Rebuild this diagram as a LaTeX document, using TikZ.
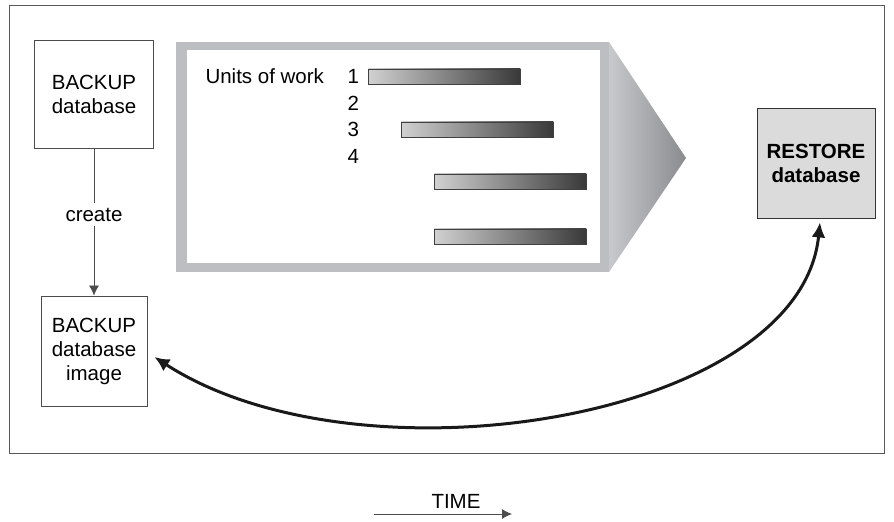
\documentclass[tikz,border=0pt]{standalone}
\usepackage{fontspec}
\setmainfont{Liberation Sans}
\usetikzlibrary{arrows.meta}

\definecolor{framegray}{RGB}{189,190,194}
\definecolor{tipleft}{RGB}{200,201,204}
\definecolor{tipright}{RGB}{138,139,143}
\newcommand{\diafont}{\fontsize{20.5bp}{24bp}\selectfont}

\begin{document}
\begin{tikzpicture}[x=1bp, y=-1bp,
  every node/.style={font=\diafont},
  box/.style={rectangle, draw=black!70, line width=0.8bp, align=center, inner sep=0pt},
  bar/.style={rectangle, draw=black!75, line width=0.8bp, left color=black!18, right color=black!78,
              minimum width=152bp, minimum height=15bp, inner sep=0pt, anchor=west},
  arr/.style={-{Latex[length=10bp,width=10bp]}, draw=black!70, line width=0.8bp},
  curv/.style={{Latex[length=15bp,width=14bp]}-{Latex[length=15bp,width=14bp]}, line width=3bp, black!90}]

\useasboundingbox (0,0) rectangle (894,522);
\draw[black!65, line width=1bp] (9,6) rectangle (884,453);

% units of work panel
\fill[framegray] (176,42) rectangle (609,272);
\fill[white] (187,50) rectangle (600,263);
\shade[left color=tipleft, right color=tipright] (609,42) -- (686,158) -- (609,272) -- cycle;

\node[anchor=base west] (units) at (202,84) {Units of work};
\foreach \n/\y in {1/84,2/111,3/137,4/164}
  \node[anchor=base west] (n\n) at (344,\y) {\n};

\node[bar] (b1) at (368,76.5) {};
\node[bar] (b2) at (401,129.5) {};
\node[bar] (b3) at (434,181.5) {};
\node[bar] (b4) at (434,236.5) {};

% boxes
\node[box, minimum width=119bp, minimum height=108bp] (bkdb) at (94,94) {BACKUP\\database};
\node[box, minimum width=106bp, minimum height=110bp] (image) at (94,351) {BACKUP\\database\\image};
\node[box, draw=black!80, fill=black!14, minimum width=118bp, minimum height=110bp,
      font=\diafont\bfseries] (restore) at (816,163) {RESTORE\\database};

\draw[arr] (bkdb) -- node[pos=0.45, fill=white, inner sep=5bp] (create) {create} (image);
\draw[curv] (image.east) ++(7,6) .. controls (360,490) and (800,420) .. ([xshift=4bp,yshift=-4bp]restore.south);

% time axis
\node (time) at (456,501) {TIME};
\coordinate (t0) at (374,514);
\coordinate (t1) at (512,514);
\draw[arr] (t0) -- (t1);
\end{tikzpicture}
\end{document}
